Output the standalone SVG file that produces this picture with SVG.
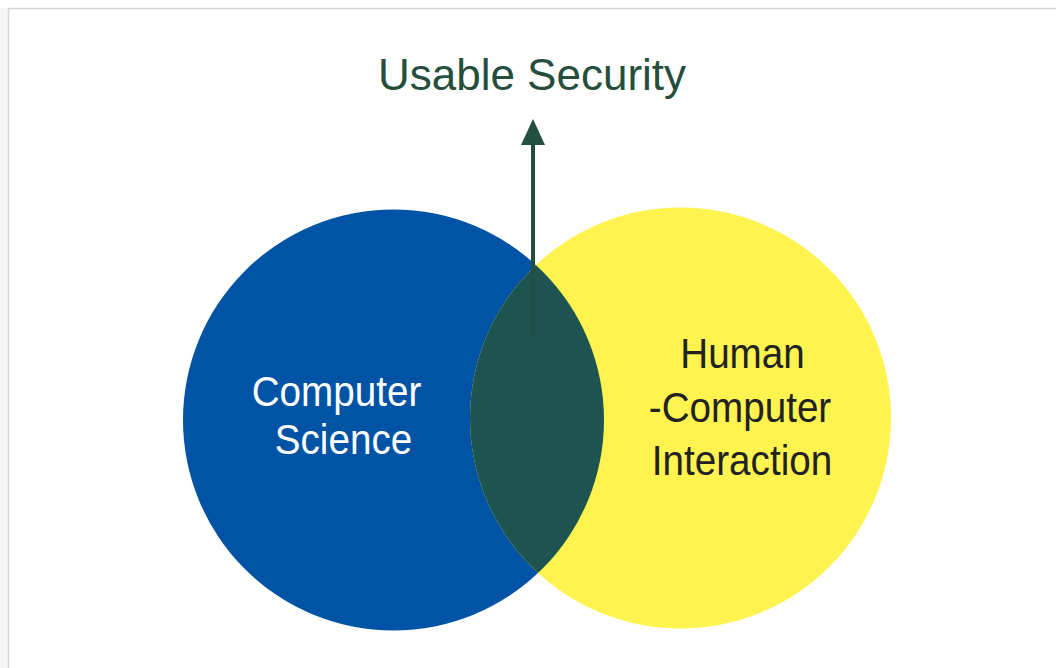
<svg xmlns="http://www.w3.org/2000/svg" width="1056" height="668" viewBox="0 0 1056 668">
<style>
.lbl{font-family:"Liberation Sans",Arial,sans-serif;font-size:42px;text-anchor:middle}
</style>
<defs>
<clipPath id="clipBlue"><circle cx="393.5" cy="420" r="210.5"/></clipPath>
</defs>
<rect width="1056" height="668" fill="#ffffff"/>
<rect x="0" y="8" width="8" height="660" fill="#f7f7f7"/>
<path d="M8.5 668 V8.5 H1056" fill="none" stroke="#d4d4d4" stroke-width="1.5"/>
<g id="cs">
<circle cx="393.5" cy="420" r="210.5" fill="#0053A5"/>
<text class="lbl" transform="translate(336.5 406) scale(0.92 1)" fill="#ffffff">Computer</text>
<text class="lbl" transform="translate(343.5 454) scale(0.92 1)" fill="#ffffff">Science</text>
</g>
<g id="hci">
<circle cx="680.5" cy="418" r="210.5" fill="#FFF350"/>
<text class="lbl" transform="translate(742.5 368) scale(0.92 1)" fill="#222222">Human</text>
<text class="lbl" transform="translate(740 422) scale(0.92 1)" fill="#222222">-Computer</text>
<text class="lbl" transform="translate(742 475) scale(0.92 1)" fill="#222222">Interaction</text>
</g>
<g id="overlap">
<circle cx="680.5" cy="418" r="210.5" fill="#1E5450" clip-path="url(#clipBlue)"/>
</g>
<g id="usable">
<text x="532" y="90" style="font-family:'Liberation Sans',Arial,sans-serif;font-size:44px;text-anchor:middle" fill="#264E3C">Usable Security</text>
</g>
<g id="connectors">
<line x1="533" y1="337" x2="533" y2="143" stroke="#234F40" stroke-width="4"/>
<polygon points="533,119 545,145 521,145" fill="#234F40"/>
</g>
</svg>
